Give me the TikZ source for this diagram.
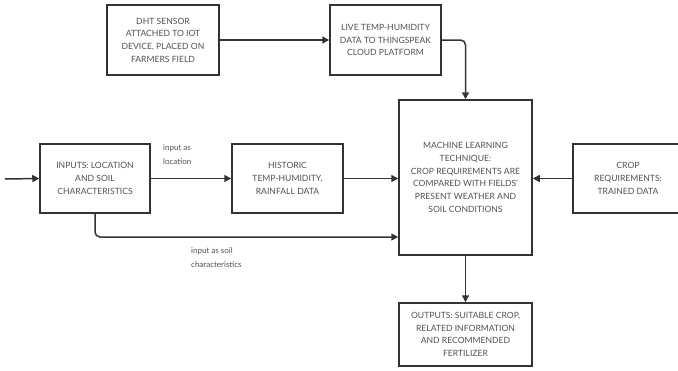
\documentclass[tikz,border=0pt]{standalone}
\usepackage{fontspec}
\setmainfont{Lato}
\usetikzlibrary{arrows.meta}
\definecolor{boxline}{HTML}{333333}
\definecolor{boxtext}{HTML}{505050}
\tikzset{
    block/.style={draw=boxline,line width=1.5pt,align=center,text=boxtext,
        font=\fontsize{8.6}{12.7}\selectfont,inner sep=2pt},
    flow/.style={draw=boxline,line width=1.5pt,-{Triangle[length=7pt,width=7pt]},rounded corners=5pt},
    note/.style={align=left,text=boxtext,font=\fontsize{8}{14.5}\selectfont,inner sep=0pt}
}
\begin{document}
\begin{tikzpicture}[x=1pt,y=-1pt]
    \useasboundingbox (0,0) rectangle (678,370);

    % sensor row
    \node[block,minimum width=112pt,minimum height=70pt] (dht) at (163,40)
        {DHT SENSOR\\ATTACHED TO IOT\\DEVICE, PLACED ON\\FARMERS FIELD};
    \node[block,minimum width=111pt,minimum height=70pt] (live) at (385.5,40)
        {LIVE TEMP-HUMIDITY\\DATA TO THINGSPEAK\\CLOUD PLATFORM};

    % middle row
    \coordinate (start) at (5,179);
    \node[block,minimum width=110pt,minimum height=69pt] (inputs) at (95,178.5)
        {INPUTS: LOCATION\\AND SOIL\\CHARACTERISTICS};
    \node[block,minimum width=111pt,minimum height=69pt] (historic) at (287.5,178.5)
        {HISTORIC\\TEMP-HUMIDITY,\\RAINFALL DATA};
    \node[block,minimum width=133pt,minimum height=155pt] (ml) at (465.5,177.5)
        {MACHINE LEARNING\\TECHNIQUE:\\CROP REQUIREMENTS ARE\\COMPARED WITH FIELDS'\\PRESENT WEATHER AND\\SOIL CONDITIONS};
    \node[block,minimum width=110pt,minimum height=69pt] (crop) at (628,178.5)
        {CROP\\REQUIREMENTS:\\TRAINED DATA};

    % output
    \node[block,minimum width=133pt,minimum height=63pt] (output) at (465.5,334.5)
        {OUTPUTS: SUITABLE CROP,\\RELATED INFORMATION\\AND RECOMMENDED\\FERTILIZER};

    % labels
    \node[note,anchor=north west] (loclabel) at (163,144) {input as\\location};
    \node[note,anchor=north west] (soillabel) at (191,247) {input as soil\\characteristics};

    % connectors
    \draw[flow] (dht) -- (live);
    \draw[flow] (live.east) -| (ml.north);
    \draw[flow] (start) -- (inputs.west);
    \draw[flow] (inputs) -- (historic);
    \draw[flow] (historic.east) -- (historic.east -| ml.west);
    \draw[flow] (inputs.south) |- ([yshift=-59.5pt]ml.west);
    \draw[flow] (crop.west) -- (crop.west -| ml.east);
    \draw[flow] (ml) -- (output);
\end{tikzpicture}
\end{document}
